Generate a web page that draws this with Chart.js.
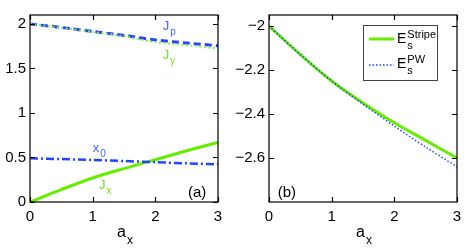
<!DOCTYPE html>
<html>
<head>
<meta charset="utf-8">
<script src="https://cdn.jsdelivr.net/npm/chart.js@4"></script>
<style>
  body { margin: 0; background: #fff; }
  #wrap { position: relative; width: 471px; height: 250px; }
  canvas { position: absolute; top: 0; }
  #cA { left: 0; }
  #cB { left: 232px; }
</style>
</head>
<body>
<div id="wrap">
  <canvas id="cA" width="232" height="250"></canvas>
  <canvas id="cB" width="239" height="250"></canvas>
</div>
<script>
// datos
const ax = [0, 0.5, 1, 1.5, 2, 2.5, 3];
const jp = [2.0, 1.96, 1.915, 1.87, 1.82, 1.785, 1.755];
const jy = [2.0, 1.955, 1.91, 1.86, 1.795, 1.76, 1.725];
const x0 = [0.49, 0.482, 0.472, 0.46, 0.447, 0.434, 0.424];
const jx = [0, 0.14, 0.27, 0.375, 0.475, 0.575, 0.67];
const eStripe = [-2.0, -2.13, -2.25, -2.35, -2.44, -2.52, -2.60];
const ePW = [-2.0, -2.13, -2.25, -2.355, -2.455, -2.55, -2.64];

const xTicks = [0, 1, 2, 3];
const yTicksA = [0, 0.5, 1, 1.5, 2];
const yTicksB = [-2.6, -2.4, -2.2, -2];

const azul = "#2343ff";
const verde = "#66ee00";
const fuente = "'Liberation Sans', Arial, Helvetica, sans-serif";

function pts(ys) {
  return ax.map((x, i) => ({ x: x, y: ys[i] }));
}

// texto con subindice / superindice
function textoIndice(ctx, x, y, base, sub, sup, color, size) {
  ctx.fillStyle = color;
  ctx.textAlign = "left";
  ctx.textBaseline = "alphabetic";
  ctx.font = size + "px " + fuente;
  ctx.fillText(base, x, y);
  let w = ctx.measureText(base).width + 1;
  let chico = Math.round(size * 0.75);
  ctx.font = chico + "px " + fuente;
  if (sub) ctx.fillText(sub, x + w, y + Math.round(size * 0.42));
  if (sup) ctx.fillText(sup, x + w, y - Math.round(size * 0.38));
}

const marco = {
  id: "marco",
  afterDraw(chart, args, opts) {
    let ctx = chart.ctx;
    let a = chart.chartArea;
    let sx = chart.scales.x;
    let sy = chart.scales.y;
    ctx.save();
    ctx.strokeStyle = "#000";
    ctx.lineWidth = 1.2;
    ctx.strokeRect(a.left, a.top, a.right - a.left, a.bottom - a.top);
    ctx.beginPath();
    xTicks.forEach((v) => {
      let px = Math.round(sx.getPixelForValue(v)) + 0.5;
      ctx.moveTo(px, a.bottom);
      ctx.lineTo(px, a.bottom - 5);
      ctx.moveTo(px, a.top);
      ctx.lineTo(px, a.top + 5);
    });
    opts.yTicks.forEach((v) => {
      let py = Math.round(sy.getPixelForValue(v)) + 0.5;
      ctx.moveTo(a.left, py);
      ctx.lineTo(a.left + 5, py);
      ctx.moveTo(a.right, py);
      ctx.lineTo(a.right - 5, py);
    });
    ctx.stroke();

    // titulo eje x: a_x
    let cx = (a.left + a.right) / 2 - 7;
    textoIndice(ctx, cx, 237, "a", "x", null, "#000", 16);

    (opts.notas || []).forEach((n) => {
      textoIndice(ctx, sx.getPixelForValue(n.x), sy.getPixelForValue(n.y),
        n.txt, n.sub, null, n.color, n.size || 13);
    });

    if (opts.leyenda) {
      let lx = a.left + 94;
      let ly = a.top + 10;
      ctx.fillStyle = "#fff";
      ctx.fillRect(lx, ly, 74, 55);
      ctx.strokeStyle = "#444";
      ctx.lineWidth = 1;
      ctx.strokeRect(lx + 0.5, ly + 0.5, 74, 55);
      // muestra Stripe
      ctx.strokeStyle = verde;
      ctx.lineWidth = 3;
      ctx.beginPath();
      ctx.moveTo(lx + 6, ly + 14);
      ctx.lineTo(lx + 31, ly + 14);
      ctx.stroke();
      // muestra PW
      ctx.strokeStyle = azul;
      ctx.lineWidth = 1.5;
      ctx.setLineDash([1.5, 2]);
      ctx.beginPath();
      ctx.moveTo(lx + 6, ly + 40);
      ctx.lineTo(lx + 31, ly + 40);
      ctx.stroke();
      ctx.setLineDash([]);
      textoIndice(ctx, lx + 34, ly + 18, "E", "s", "Stripe", "#000", 14);
      textoIndice(ctx, lx + 34, ly + 43, "E", "s", "PW", "#000", 14);
    }
    ctx.restore();
  },
};

function escalas(yMin, yMax, yTicks, anchoY) {
  return {
    x: {
      type: "linear",
      min: 0,
      max: 3,
      afterBuildTicks: (s) => { s.ticks = xTicks.map((v) => ({ value: v })); },
      afterFit: (s) => { s.height = 48; },
      grid: { display: false, drawTicks: false },
      border: { display: false },
      ticks: { color: "#000", padding: 6, font: { family: fuente, size: 15 } },
    },
    y: {
      min: yMin,
      max: yMax,
      afterBuildTicks: (s) => { s.ticks = yTicks.map((v) => ({ value: v })); },
      afterFit: (s) => { s.width = anchoY; },
      grid: { display: false, drawTicks: false },
      border: { display: false },
      ticks: {
        color: "#000",
        padding: 4,
        font: { family: fuente, size: 15 },
        callback: (v) => String(v).replace("-", "\u2212"),
      },
    },
  };
}

function serie(ys, color, ancho, guiones) {
  return {
    data: pts(ys),
    borderColor: color,
    borderWidth: ancho,
    borderDash: guiones,
    pointRadius: 0,
    fill: false,
    tension: 0.3,
  };
}

new Chart(document.getElementById("cA"), {
  type: "line",
  data: {
    datasets: [
      serie(jy, "#8cf040", 2, [2, 2.5]),
      serie(jp, azul, 3, [7, 4]),
      serie(x0, azul, 2.5, [8, 3, 2, 3]),
      serie(jx, verde, 3, []),
    ],
  },
  options: {
    responsive: false,
    animation: false,
    layout: { padding: { top: 15, right: 14, left: 0, bottom: 0 } },
    scales: escalas(0, 2.1, yTicksA, 30),
    plugins: {
      legend: { display: false },
      tooltip: { enabled: false },
      marco: {
        yTicks: yTicksA,
        notas: [
          { txt: "J", sub: "p", x: 2.12, y: 1.93, color: "#4466ff" },
          { txt: "J", sub: "y", x: 2.12, y: 1.61, color: "#77e020" },
          { txt: "x", sub: "0", x: 1.0, y: 0.56, color: "#4466ff" },
          { txt: "J", sub: "x", x: 1.1, y: 0.146, color: "#77e020" },
          { txt: "(a)", x: 2.52, y: 0.056, color: "#000", size: 15 },
        ],
      },
    },
  },
  plugins: [marco],
});

new Chart(document.getElementById("cB"), {
  type: "line",
  data: {
    datasets: [
      serie(ePW, azul, 1.5, [1.5, 2]),
      serie(eStripe, verde, 3, []),
    ],
  },
  options: {
    responsive: false,
    animation: false,
    layout: { padding: { top: 15, right: 14, left: 0, bottom: 0 } },
    scales: escalas(-2.8, -1.95, yTicksB, 37),
    plugins: {
      legend: { display: false },
      tooltip: { enabled: false },
      marco: {
        yTicks: yTicksB,
        leyenda: true,
        notas: [
          { txt: "(b)", x: 0.14, y: -2.777, color: "#000", size: 15 },
        ],
      },
    },
  },
  plugins: [marco],
});
</script>
</body>
</html>
